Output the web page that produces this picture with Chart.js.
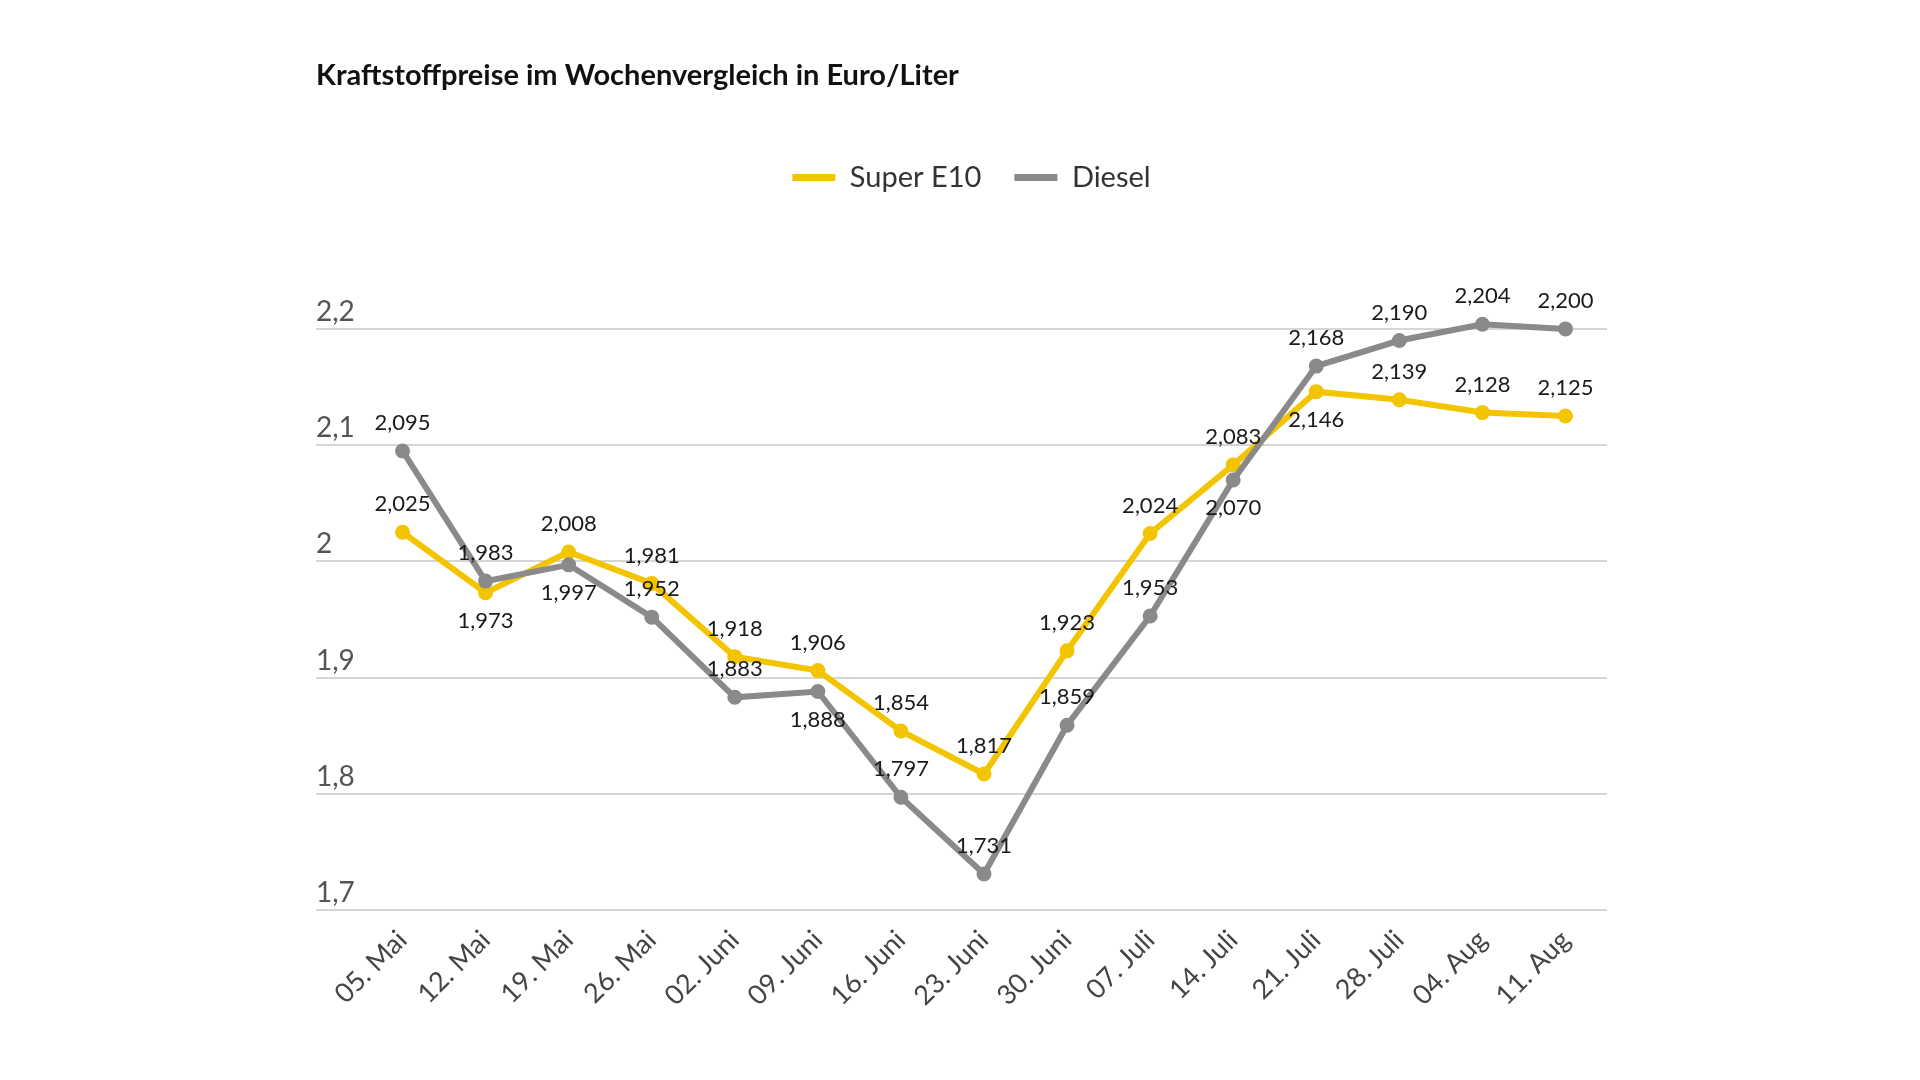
<!DOCTYPE html>
<html>
<head>
<meta charset="utf-8">
<script src="https://cdn.jsdelivr.net/npm/chart.js@4"></script>
<style>
  html, body { margin: 0; padding: 0; background: #fff; }
  #wrap { width: 1920px; height: 1080px; }
</style>
</head>
<body>
<div id="wrap"><canvas id="fuelChart"></canvas></div>
<script>
// weeks
const categories = ['05. Mai', '12. Mai', '19. Mai', '26. Mai', '02. Juni', '09. Juni', '16. Juni',
  '23. Juni', '30. Juni', '07. Juli', '14. Juli', '21. Juli', '28. Juli', '04. Aug', '11. Aug'];

// prices in euro per litre
const superE10 = [2.025, 1.973, 2.008, 1.981, 1.918, 1.906, 1.854, 1.817, 1.923, 2.024, 2.083, 2.146, 2.139, 2.128, 2.125];
const diesel = [2.095, 1.983, 1.997, 1.952, 1.883, 1.888, 1.797, 1.731, 1.859, 1.953, 2.070, 2.168, 2.190, 2.204, 2.200];

// y axis tick values
const yTicks = [1.7, 1.8, 1.9, 2.0, 2.1, 2.2];

// which side of the point the value label sits on
const e10LabelSide = ['up', 'down', 'up', 'up', 'up', 'up', 'up', 'up', 'up', 'up', 'up', 'down', 'up', 'up', 'up'];
const dieselLabelSide = ['up', 'up', 'down', 'up', 'up', 'down', 'up', 'up', 'up', 'up', 'down', 'up', 'up', 'up', 'up'];

const yellow = '#f2c500';
const grey = '#8a8a8a';
const fontFamily = 'Lato, "Open Sans", sans-serif';

const fmt3 = v => v.toFixed(3).replace('.', ',');

// draws the value next to every point
const valueLabels = {
  id: 'valueLabels',
  afterDatasetsDraw(chart) {
    const ctx = chart.ctx;
    ctx.save();
    ctx.font = '22px ' + fontFamily;
    ctx.fillStyle = '#1a1a1a';
    ctx.textAlign = 'center';
    ctx.textBaseline = 'middle';
    chart.data.datasets.forEach((ds, i) => {
      const meta = chart.getDatasetMeta(i);
      const sides = ds.label === 'Diesel' ? dieselLabelSide : e10LabelSide;
      meta.data.forEach((pt, j) => {
        const dy = sides[j] === 'down' ? 28 : -28;
        ctx.fillText(fmt3(ds.data[j]), pt.x, pt.y + dy);
      });
    });
    ctx.restore();
  }
};

// push plot area down below the legend, nudge legend a bit right
const legendGap = {
  id: 'legendGap',
  afterInit(chart) {
    const fit = chart.legend.fit;
    chart.legend.fit = function () {
      fit.call(this);
      this.height += 127;
    };
  },
  afterLayout(chart) {
    chart.legend.left += 10;
    chart.legend.right += 10;
  }
};

const data = {
  labels: categories,
  datasets: [{
    label: 'Super E10',
    data: superE10,
    borderColor: yellow,
    backgroundColor: yellow,
    pointBackgroundColor: yellow,
    order: 1
  }, {
    label: 'Diesel',
    data: diesel,
    borderColor: grey,
    backgroundColor: grey,
    pointBackgroundColor: grey,
    order: 0
  }]
};

const config = {
  type: 'line',
  data: data,
  options: {
    responsive: true,
    maintainAspectRatio: false,
    animation: false,
    layout: { padding: { left: 316, right: 313, top: 40, bottom: 50 } },
    elements: {
      line: { borderWidth: 6, tension: 0 },
      point: { radius: 6.5, borderWidth: 2, borderColor: '#fff', hoverRadius: 6.5 }
    },
    datasets: { line: { clip: false } },
    plugins: {
      title: {
        display: true,
        text: 'Kraftstoffpreise im Wochenvergleich in Euro/Liter',
        align: 'start',
        color: '#111',
        font: { family: fontFamily, size: 29, weight: 'bold' },
        padding: { top: 18.6, bottom: 36.5 }
      },
      legend: {
        display: true,
        labels: {
          boxWidth: 43,
          boxHeight: 7,
          padding: 33,
          color: '#333',
          font: { family: fontFamily, size: 29 },
          sort: (a, b) => a.datasetIndex - b.datasetIndex,
          generateLabels: chart => Chart.defaults.plugins.legend.labels.generateLabels(chart)
            .map(item => Object.assign(item, { lineWidth: 0, fillStyle: item.strokeStyle }))
        }
      },
      tooltip: { enabled: false }
    },
    scales: {
      x: {
        offset: true,
        grid: { display: false },
        border: { display: false },
        ticks: {
          color: '#444',
          font: { family: fontFamily, size: 27 },
          minRotation: 45,
          maxRotation: 45,
          padding: 6
        },
        afterFit: scale => { scale.height = 120; }
      },
      y: {
        min: 1.7,
        max: 2.2,
        border: { display: false },
        grid: { color: '#d6d6d6', lineWidth: 2, drawTicks: true, tickLength: 45 },
        afterBuildTicks: scale => { scale.ticks = yTicks.map(v => ({ value: v })); },
        afterFit: scale => { scale.width = 45; },
        ticks: {
          color: '#555',
          crossAlign: 'far',
          padding: 0,
          labelOffset: -17,
          font: { family: fontFamily, size: 28 },
          callback: v => String(Number(v.toFixed(1))).replace('.', ',')
        }
      }
    }
  },
  plugins: [valueLabels, legendGap]
};

const fuelChart = new Chart(document.getElementById('fuelChart'), config);
</script>
</body>
</html>
